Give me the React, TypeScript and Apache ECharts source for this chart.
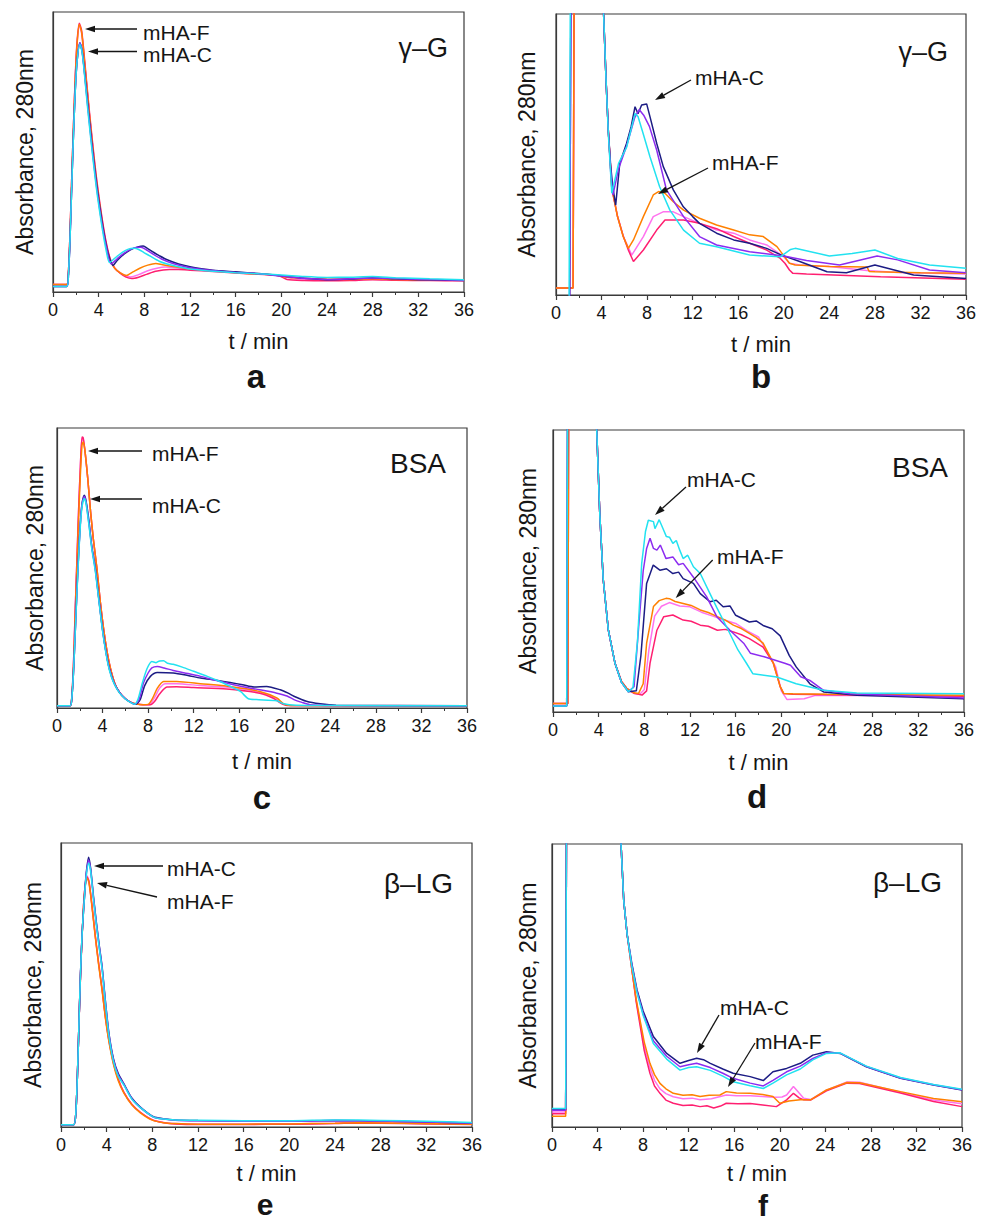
import React, { useEffect, useRef } from "react";
import * as echarts from "echarts";

const FONT = "'Liberation Sans', Arial, Helvetica, sans-serif";

const SERIES_NAMES = ["mHA-F 3", "mHA-F 2", "mHA-F 1", "mHA-C 1", "mHA-C 2", "mHA-C 3"];
const SERIES_COLORS = ["#FF72EE", "#FF1F70", "#FF8000", "#1C1C84", "#8C2CF0", "#22E2F0"];

const X_TICKS = [0, 4, 8, 12, 16, 20, 24, 28, 32, 36];

// ---------- panel a : gamma-G ----------
const aOrange = [[0,2.7],[1.2,2.7],[1.35,7],[1.5,22],[1.65,42],[1.8,60],[1.95,76],[2.1,88],[2.3,95.5],[2.5,93],[2.7,85],[2.9,76],[3.2,63],[3.5,51],[3.8,40],[4.2,28],[4.6,18],[5.0,11.5],[5.4,8.5],[5.9,6.8],[6.4,5.9],[7.0,7.2],[7.6,8.5],[8.3,9.6],[9.0,10.2],[9.6,9.7],[10.5,9.1],[12,8.3],[14,7.6],[16,6.9],[18,6.4],[19.5,6.0],[20.5,5.3],[22,4.9],[24,4.6],[26,4.5],[28,4.7],[30,4.5],[33,4.3],[36,4.2]];
const aLightPink = [[0,2.7],[1.2,2.7],[1.35,7],[1.5,22],[1.65,42],[1.8,60],[1.95,76],[2.1,88],[2.3,95],[2.5,92.5],[2.7,85],[2.9,76],[3.2,63],[3.5,51],[3.8,40],[4.2,28.5],[4.6,18.5],[5.0,11.8],[5.4,8.5],[5.9,6.8],[6.4,5.8],[6.8,5.4],[7.5,6.2],[8.3,7.6],[9.2,8.6],[9.8,8.9],[10.8,8.7],[12,8.1],[14,7.5],[16,7.0],[18,6.5],[20,5.8],[21,4.8],[24,4.3],[28,4.6],[32,4.3],[36,4.1]];
const aHotPink = [[0,2.7],[1.2,2.7],[1.35,7],[1.5,22],[1.65,42],[1.8,60],[1.95,77],[2.1,89],[2.3,96],[2.5,93.5],[2.7,86],[2.9,77],[3.2,64],[3.5,52],[3.8,41],[4.2,29],[4.6,19],[5.0,12],[5.4,8.6],[5.9,6.6],[6.4,5.3],[6.9,4.8],[7.5,5.3],[8.2,6.3],[9.0,7.4],[10.2,8.0],[11,8.0],[12,7.8],[14,7.3],[16,6.8],[18,6.3],[19.7,5.9],[20.5,4.5],[22,4.1],[24,4.0],[26,4.1],[28,4.4],[30,4.2],[33,4.1],[36,4.0]];
const aNavy = [[0,2],[1.2,2],[1.35,6],[1.5,20],[1.65,39],[1.8,57],[1.95,72],[2.1,82],[2.35,88.9],[2.55,86],[2.75,79],[3.0,69],[3.3,57],[3.6,46],[3.9,36],[4.3,25],[4.7,16],[5.0,11.5],[5.25,9.5],[5.6,11.2],[6.0,12.8],[6.5,14.3],[7.0,15.5],[7.5,16.2],[7.9,16.4],[8.3,15.5],[8.8,14.2],[9.3,13],[10,11.5],[11,10],[12,9],[13,8.3],[14,7.8],[16,7.2],[18,6.6],[20,5.8],[22,4.9],[24,4.4],[26,4.6],[28,5.1],[30,4.7],[32,4.4],[36,4.1]];
const aPurple = [[0,2],[1.2,2],[1.35,6],[1.5,20],[1.65,39],[1.8,57],[1.95,72],[2.1,82],[2.35,89],[2.55,86],[2.75,78.5],[3.0,68],[3.3,56],[3.6,45],[3.9,35],[4.3,24],[4.7,15.5],[5.1,10],[5.6,11.8],[6.2,13.8],[6.8,15.2],[7.3,15.9],[7.7,16],[8.2,15],[8.8,13.4],[9.5,11.8],[10.5,10.2],[12,8.7],[14,7.7],[16,7.0],[18,6.5],[20,5.7],[22,4.9],[24,4.5],[26,4.7],[28,5.0],[32,4.5],[36,4.2]];
const aCyan = [[0,2],[1.2,2],[1.35,6],[1.5,20],[1.65,39],[1.8,57],[1.95,72],[2.1,82],[2.35,88.5],[2.55,85.5],[2.75,78],[3.0,67],[3.3,55],[3.6,44],[3.9,34],[4.3,23],[4.65,15],[4.95,10.5],[5.4,12],[6.0,14],[6.6,15.3],[7.1,15.6],[7.5,15.2],[8.0,14],[8.6,12.6],[9.3,11],[10,10],[11,9],[12,8.2],[14,7.4],[16,6.9],[18,6.5],[20,6.1],[22,5.5],[24,5.2],[26,5.3],[28,5.5],[30,5.1],[33,4.7],[36,4.4]];

// ---------- panel b : gamma-G (zoomed) ----------
const bOrange = [[0,2.5],[1.5,2.5],[1.6,120],[2.3,400],[3.2,250],[3.8,140],[4.18,100],[4.4,76],[4.6,58],[4.8,45],[4.9,38],[5.4,27.9],[5.9,20.8],[6.35,16.6],[6.8,19.6],[7.67,27.9],[8.54,35.6],[9.0,36.8],[9.57,36.2],[10.3,33.2],[11.2,30.2],[12.6,27.3],[14.1,24.9],[15.6,23.1],[17,21.4],[18.2,20.8],[19.4,17.2],[19.96,14.2],[20.5,11.3],[21,10.7],[24,10.1],[27.3,10.0],[27.5,8.4],[28,8.3],[32,7.9],[36,7.7]];
const bLightPink = [[0,2.5],[1.5,2.5],[1.6,120],[2.3,400],[3.2,250],[3.8,140],[4.18,100],[4.4,76],[4.6,58],[4.8,45],[4.9,38],[5.4,28],[5.9,21],[6.65,14.2],[7.67,20.8],[8.54,27.9],[9.4,29.6],[10.3,29.6],[11.2,27.9],[12.6,25.5],[14.1,23.1],[15.6,22],[17,19.6],[18.5,17.8],[20,13.6],[20.5,11.3],[21.4,10.7],[24,10.1],[27.3,8.7],[30,8],[36,7.5]];
const bHotPink = [[0,2.5],[1.5,2.5],[1.6,120],[2.3,400],[3.2,250],[3.8,140],[4.18,100],[4.4,76],[4.6,58],[4.8,45],[4.9,38],[5.4,28],[5.9,21],[6.35,16],[6.8,11.9],[7.67,16],[8.84,23.1],[9.57,26.7],[11.2,26.7],[12.6,25.5],[14.1,23.6],[15.6,20.8],[17,18.4],[18.5,16],[19.7,13],[20.1,11.3],[20.5,8.9],[20.8,7.7],[22,7.5],[28.5,6.5],[36,5.6]];
const bNavy = [[0,-2],[1.2,-2],[1.35,150],[2.3,400],[3.2,250],[3.8,140],[4.18,100],[4.4,76],[4.6,58],[4.8,46],[5.0,38],[5.24,32],[5.6,46.9],[6.2,54],[6.6,60],[6.94,67],[7.2,64.5],[7.52,67.6],[7.96,68],[8.25,63.5],[8.84,54],[9.42,45.7],[10.3,37.4],[11.18,31.4],[12,27.9],[12.6,25.5],[14.1,22],[15.6,19.6],[17,18.4],[18.5,16.6],[19.8,14.2],[21.4,11.9],[23.8,8.3],[25.5,7.9],[28,10.7],[31.4,7.1],[36,5.9]];
const bPurple = [[0,-2],[1.2,-2],[1.35,150],[2.3,400],[3.2,250],[3.8,140],[4.18,100],[4.4,76],[4.6,58],[4.8,44],[5.0,35.6],[5.5,45],[6.2,53],[6.9,63],[7.3,66],[7.7,64],[8.2,60],[8.84,51.6],[9.7,37.4],[11.2,27.9],[12.6,20.8],[14.1,17.8],[17,15.4],[20,13.9],[22,12.3],[24.9,10.7],[28.2,13.9],[30,12.5],[32.8,8.9],[36,7.9]];
const bCyan = [[0,-2],[1.15,-2],[1.3,150],[2.3,400],[3.2,250],[3.8,140],[4.18,100],[4.4,76],[4.6,57],[4.9,36.2],[5.5,46.9],[6.2,52.6],[6.94,64.6],[7.2,63.5],[7.65,57.5],[8.25,49.2],[9.1,38.5],[10,30.2],[11.2,23.1],[12.6,18.4],[14.1,17.2],[17,14.2],[19.7,13.6],[20.6,16.2],[21,16.6],[24,13.9],[26,14.8],[28,16],[30,13],[32.8,10.7],[36,9.5]];

// ---------- panel c : BSA ----------
const cOrange = [[0,0.8],[1.15,0.8],[1.3,4],[1.45,15],[1.6,33],[1.75,51],[1.9,68],[2.05,83],[2.2,94],[2.3,95],[2.45,92],[2.7,82],[2.95,70],[3.2,60],[3.5,50],[3.8,38],[4.1,28],[4.4,20],[4.7,14],[5.1,8.5],[5.5,5.5],[6.0,3.3],[6.5,2.0],[7.0,1.4],[7.5,1.2],[8.0,1.3],[8.4,3.5],[8.8,7],[9.36,9.5],[10.5,9.5],[12.6,8.7],[15.5,7.5],[17.8,5.9],[19.3,3.6],[19.9,1.5],[20.5,0.9],[36,0.8]];
const cLightPink = [[0,0.8],[1.15,0.8],[1.3,4],[1.45,16],[1.6,35],[1.75,53],[1.9,71],[2.05,86],[2.2,96.5],[2.3,96],[2.45,92],[2.7,82],[2.95,70],[3.2,60],[3.5,50],[3.8,38],[4.1,28],[4.4,20],[4.7,14],[5.1,8.5],[5.5,5.5],[6.0,3.3],[6.5,2.0],[7.0,1.4],[7.6,1.2],[8.1,1.2],[8.6,4],[9.0,7],[9.5,8.7],[10.5,8.7],[12.6,8],[15.5,7.2],[17.8,5.6],[19.3,3.4],[19.8,1.6],[20.5,0.9],[36,0.8]];
const cHotPink = [[0,0.8],[1.15,0.8],[1.3,4],[1.45,16],[1.6,35],[1.75,53],[1.9,71],[2.05,86],[2.2,96.8],[2.3,96.5],[2.45,92],[2.7,82],[2.95,70],[3.2,60],[3.5,50],[3.8,38],[4.1,28],[4.4,20],[4.7,14],[5.1,8.5],[5.5,5.5],[6.0,3.3],[6.5,2.0],[7.0,1.4],[7.6,1.2],[8.2,1.2],[8.6,2.5],[9.0,5],[9.65,7.5],[10.5,7.6],[12,7.3],[14.9,6.8],[17.8,5.3],[19.0,3.5],[19.6,1.8],[20.2,0.9],[36,0.8]];
const cNavy = [[0,0.8],[1.15,0.8],[1.3,3.5],[1.45,13],[1.6,27],[1.75,42],[1.9,55],[2.05,66],[2.2,73],[2.4,76],[2.55,74],[2.8,67],[3.05,58],[3.36,50],[3.7,38],[4.0,28],[4.3,20],[4.6,14],[5.0,9],[5.5,5.5],[6.0,3.3],[6.4,2.2],[6.9,1.3],[7.3,3],[7.7,8],[8.2,11.3],[8.8,12.7],[10.2,12.5],[11.5,11.6],[12.6,10.7],[14,9.9],[15.2,9.1],[16.3,8.3],[17.3,7.5],[18.4,7.7],[19.6,6.5],[20.3,5.3],[20.8,4.2],[21.9,2.4],[23.1,1.5],[24.5,1.0],[36,0.8]];
const cPurple = [[0,0.8],[1.15,0.8],[1.3,3.5],[1.45,13],[1.6,27],[1.75,42],[1.9,55],[2.05,66],[2.2,73],[2.4,75.5],[2.55,73.5],[2.8,66],[3.05,57.5],[3.36,49.5],[3.7,38],[4.0,28],[4.3,20],[4.6,14],[5.0,9],[5.5,5.5],[6.0,3.3],[6.4,2.2],[6.8,1.3],[7.2,3],[7.6,9],[8.0,12.5],[8.33,14.3],[8.8,14.8],[9.4,14.3],[10.2,13.4],[11.5,12.3],[12.6,11.3],[14,9.8],[15.5,8.3],[16.7,7.3],[17.8,6.5],[19.3,5.3],[20.2,4.3],[20.8,3],[21.5,2],[22.2,1.2],[24,0.9],[36,0.8]];
const cCyan = [[0,0.8],[1.15,0.8],[1.3,3.5],[1.45,13],[1.6,27],[1.75,41],[1.9,54],[2.05,65],[2.2,72],[2.4,74.8],[2.55,73],[2.8,65.5],[3.05,57],[3.36,49],[3.7,37.5],[4.0,27.5],[4.3,19.5],[4.6,13.5],[5.0,8.8],[5.5,5.3],[6.0,3.2],[6.4,2.1],[6.8,1.3],[7.1,3],[7.5,9],[7.9,14],[8.33,16.6],[8.7,16.2],[9.0,16.8],[9.36,16.9],[9.7,16],[10.2,15.6],[11,14.6],[12,13.1],[13.2,11.3],[14.1,9.8],[14.9,8.3],[16.1,5.9],[16.8,3.3],[17.5,3],[19.3,2.6],[19.9,1.5],[21,1],[24,0.9],[36,0.8]];

// ---------- panel d : BSA (zoomed) ----------
const dOrange = [[0,3],[1.3,3],[1.4,150],[2.3,400],[3.2,200],[3.83,100],[4.1,70],[4.4,47],[4.85,29],[5.43,17.3],[6.0,10.8],[6.45,8.4],[7.1,6.8],[7.5,6.6],[7.9,10],[8.2,24.4],[8.8,37.4],[9.3,39.5],[9.9,40.3],[10.2,40.2],[10.7,39.2],[11.4,38.5],[12.1,37.8],[12.9,36.2],[13.6,35.3],[14.4,33.8],[15.1,32.6],[15.8,30.8],[16.5,29.6],[17.2,27.9],[17.8,26.4],[18.4,24.4],[19.3,17.3],[19.9,9],[20.2,6.6],[21,6.5],[24,6.3],[36,5.9]];
const dLightPink = [[0,3],[1.3,3],[1.4,150],[2.3,400],[3.2,200],[3.83,100],[4.1,70],[4.4,47],[4.85,29],[5.43,17.3],[6.0,10.8],[6.45,8.4],[7.1,6.6],[7.6,6.3],[8.0,8],[8.4,22],[8.9,34],[9.5,37.5],[10.2,38.8],[11.1,37.6],[12,37.3],[13,35.4],[14,34],[15,32.6],[16,31.4],[17,28.8],[18,26.6],[19.5,16],[20,7.5],[20.5,4.4],[22,4.7],[23,5.9],[36,5.8]];
const dHotPink = [[0,3],[1.3,3],[1.4,150],[2.3,400],[3.2,200],[3.83,100],[4.1,70],[4.4,47],[4.85,29],[5.43,17.3],[6.0,10.8],[6.45,8.4],[7.1,6.6],[7.8,6.0],[8.2,7.5],[8.5,17.3],[9.1,29],[9.7,33.8],[10.5,34.4],[11.4,32.6],[12.1,32.2],[12.9,30.8],[13.6,30.4],[14.4,29],[15.1,29.3],[15.8,28.4],[16.5,27.4],[17.2,26],[18.4,23],[19.3,17.3],[19.9,9],[20.2,6.6],[21,6.3],[36,5.6]];
const dNavy = [[0,2.1],[1.2,2.1],[1.3,150],[2.3,400],[3.2,200],[3.83,100],[4.1,70],[4.4,47],[4.85,29],[5.43,17.3],[6.0,10.5],[6.6,7.2],[7.3,7.5],[7.7,20],[8.2,45.6],[8.78,52.1],[9.36,50.3],[9.94,50.8],[10.5,49.1],[11.0,49.6],[11.4,47.3],[12.3,45.6],[12.9,42],[13.75,39.1],[14.3,39.6],[14.9,37.3],[15.5,37.6],[16.0,34.3],[17.2,31.9],[17.8,32.3],[18.4,30.7],[19.2,29.5],[19.9,27],[20.7,20],[21.3,16],[22.5,10],[23.7,7.1],[26.6,5.9],[36,4.7]];
const dPurple = [[0,2.1],[1.2,2.1],[1.3,150],[2.3,400],[3.2,200],[3.83,100],[4.1,70],[4.4,47],[4.85,29],[5.43,17.3],[6.0,10.5],[6.6,7.2],[7.1,9],[7.5,30],[7.9,50],[8.2,58],[8.5,61.6],[8.8,58],[9.1,57.4],[9.4,59.2],[9.9,54.4],[10.5,55],[11.0,52.2],[11.4,52.7],[12.3,47.8],[13.45,40.9],[14.35,33.8],[15.5,29],[16.7,24.4],[17.3,20.8],[18.5,19.6],[20.3,17.3],[20.8,16.6],[21.7,12.5],[22.5,11.2],[23.7,7.7],[26,6.5],[36,5]];
const dCyan = [[0,2.1],[1.2,2.1],[1.3,150],[2.3,400],[3.2,200],[3.83,100],[4.1,70],[4.4,47],[4.85,29],[5.43,17.3],[6.0,10.5],[6.6,7.2],[7.0,8.5],[7.4,25],[7.77,52.7],[8.1,64],[8.35,68],[8.8,67.5],[8.93,65],[9.3,68.2],[9.64,65],[9.93,62.2],[10.2,62],[10.5,59.8],[10.8,60.8],[11.1,57.4],[11.4,54.4],[11.8,55.6],[12.3,51.5],[12.9,49.1],[13.75,42],[14.35,37],[15.35,29],[16.2,22],[16.96,17.2],[17.5,13.6],[19.6,12.4],[21.3,10],[23.7,7.7],[26.6,6.7],[36,6.5]];

// ---------- panel e : beta-LG ----------
const eOrange = [[0,0.8],[1.1,0.8],[1.3,5],[1.46,21],[1.6,40],[1.75,58],[1.95,76],[2.1,84],[2.28,87.6],[2.45,86],[2.7,78],[3.0,67],[3.3,57],[3.6,48],[3.9,38],[4.2,30],[4.6,22],[5.0,16.5],[5.5,12],[6.2,7.8],[6.95,5],[8,2.4],[9,1.5],[10,1.2],[12,1],[16,1],[20,1.1],[24,1.3],[26,1.5],[30,1.3],[36,1]];
const eLightPink = [[0,0.8],[1.1,0.8],[1.3,5],[1.46,21],[1.6,40],[1.75,58],[1.95,76],[2.1,84.5],[2.28,88.5],[2.45,86.5],[2.7,78.5],[3.0,67.5],[3.3,57.5],[3.6,48.5],[3.9,38.5],[4.2,30.5],[4.6,22.5],[5.0,17],[5.5,12.3],[6.2,8],[6.95,5.2],[8,2.6],[9,1.6],[10,1.2],[12,1],[16,1],[20,1.1],[24,1.3],[26,1.5],[30,1.3],[36,1]];
const eHotPink = [[0,0.8],[1.1,0.8],[1.3,5],[1.46,21],[1.6,40],[1.75,58],[1.95,76],[2.1,84.5],[2.28,88],[2.45,86.5],[2.7,78.5],[3.0,67.5],[3.3,57.5],[3.6,48.5],[3.9,38.5],[4.2,30.5],[4.6,22.5],[5.0,17],[5.5,12.3],[6.2,8],[6.95,5.2],[8,2.5],[9,1.5],[10,1.1],[12,0.9],[16,0.9],[20,1],[24,1.2],[26,1.4],[30,1.2],[36,0.9]];
const eNavy = [[0,0.8],[1.1,0.8],[1.3,5],[1.46,21],[1.6,40],[1.7,53],[1.85,68],[2.04,80],[2.2,89],[2.42,95],[2.6,91],[2.85,81],[3.1,72],[3.35,64],[3.6,56.5],[3.9,44],[4.2,33],[4.6,24],[5.0,19],[5.5,15.3],[6.2,10.2],[6.95,7],[8.1,3.6],[9,2.9],[10,2.5],[12,2.3],[16,2.1],[20,2.1],[24,2.3],[28,2.1],[32,1.8],[36,1.4]];
const ePurple = [[0,0.8],[1.1,0.8],[1.3,5],[1.46,21],[1.6,40],[1.7,53],[1.85,68],[2.04,80],[2.2,88.5],[2.42,94],[2.6,90.5],[2.85,80.5],[3.1,71.5],[3.35,63.5],[3.6,56],[3.9,43.5],[4.2,32.5],[4.6,23.5],[5.0,18.5],[5.5,15],[6.2,10],[6.95,6.8],[8.1,3.5],[9,2.8],[10,2.4],[12,2.2],[16,2],[20,2],[24,2.3],[28,2.1],[32,1.8],[36,1.4]];
const eCyan = [[0,0.8],[1.1,0.8],[1.3,5],[1.46,21],[1.6,40],[1.7,53],[1.85,68],[2.04,80],[2.2,88],[2.42,93],[2.6,90],[2.85,80],[3.1,71],[3.35,63],[3.6,55.5],[3.9,43],[4.2,32],[4.6,23],[5.0,18],[5.5,14.8],[6.2,9.8],[6.95,6.8],[8.1,3.5],[9,2.8],[10,2.5],[12,2.4],[16,2.2],[20,2.2],[24,2.5],[28,2.3],[32,2],[36,1.6]];

// ---------- panel f : beta-LG (zoomed) ----------
const fOrange = [[0,3.8],[1.2,3.8],[1.3,150],[2.4,500],[4,250],[5.2,140],[6.06,100],[6.3,80],[6.6,68],[7.0,56],[7.4,45],[7.73,37.8],[8.1,30],[8.6,22.5],[9.0,18.5],[9.48,15.4],[10.0,13.5],[10.65,11.9],[11.5,11.2],[12.3,11.4],[13,10.8],[13.8,11.2],[14.75,11.3],[15.3,12.5],[16.2,12],[17.4,11.9],[18.5,11.5],[19.4,10.8],[20,8.4],[20.8,9.2],[21.8,9.6],[22.7,9.6],[24.1,13.1],[25.9,15.7],[27,15.6],[30.6,12.5],[33.5,10.1],[36,8.9]];
const fLightPink = [[0,5.3],[1.2,5.3],[1.3,150],[2.4,500],[4,250],[5.2,140],[6.06,100],[6.3,80],[6.6,68],[7.0,56],[7.4,44.5],[7.73,37],[8.1,28.5],[8.6,21],[9.0,16.5],[9.48,13.5],[10.0,11.8],[10.65,10.7],[11.5,10],[12.3,10.2],[13,9.6],[14,10],[15.3,11.3],[16.2,11],[17.4,11],[18.5,10.8],[19.4,10.5],[20.2,10.6],[20.6,11.3],[21.2,14.3],[21.7,12],[22.1,10.2],[22.7,9.7],[24.1,13],[25.9,15.9],[27,15.8],[30.6,12.3],[33.5,9.5],[36,8.2]];
const fHotPink = [[0,4.7],[1.2,4.7],[1.3,150],[2.4,500],[4,250],[5.2,140],[6.06,100],[6.3,80],[6.6,68],[7.0,56],[7.4,44],[7.73,36],[8.1,27],[8.6,19],[9.0,14.5],[9.48,11.9],[10.0,9.5],[10.65,8.4],[11.5,7.6],[12.3,7.8],[13,7.2],[13.6,7.5],[14.2,6.7],[14.8,7.4],[15.3,8.4],[16.3,8.2],[17.4,8.3],[18.5,7.8],[19.7,7.2],[20.6,9.6],[21.2,11.9],[21.7,10.3],[22.1,9.6],[22.7,9.5],[24.1,12.8],[25.9,15.5],[27,15.4],[30.6,12],[33.5,9],[36,7.2]];
const fNavy = [[0,6.2],[1.2,6.2],[1.3,150],[2.4,500],[4,250],[5.2,140],[6.06,100],[6.3,80],[6.6,68],[7.0,58],[7.46,48.5],[8.0,41],[8.9,32],[10.07,26],[11.24,22.5],[12,23.5],[12.7,24.3],[13.3,23.8],[13.9,22.5],[15,20.5],[15.9,19],[17.4,17.8],[18.55,16.4],[19.4,19.5],[20.6,20.7],[21.8,22.5],[22.9,25.4],[24.1,26.6],[25.3,26],[27.6,21.3],[30.6,17.2],[33.5,14.8],[36,13.1]];
const fPurple = [[0,5.9],[1.2,5.9],[1.3,150],[2.4,500],[4,250],[5.2,140],[6.06,100],[6.3,80],[6.6,68],[7.0,57.5],[7.46,48],[8.0,40],[8.9,30.5],[10.07,25],[11.24,21.3],[12,22],[12.7,22.5],[13.9,21],[15,19],[15.9,17.2],[17.4,15.5],[18.55,14.5],[19.4,16.5],[20.6,19.5],[21.8,21.5],[22.9,24.2],[24.1,26.3],[25.3,26.1],[27.6,21.4],[30.6,17.3],[33.5,14.9],[36,13.2]];
const fCyan = [[0,6.5],[1.2,6.5],[1.3,150],[2.4,500],[4,250],[5.2,140],[6.06,100],[6.3,80],[6.6,68],[7.0,57],[7.46,47.5],[8.0,39.5],[8.9,29.5],[10.07,24],[11.24,20.1],[12,21],[12.7,21.3],[13.9,20],[15,18],[15.9,16],[17.4,14.6],[18.55,13.6],[19.4,15.5],[20.6,18.4],[21.8,20.5],[22.9,23.7],[24.1,26],[25.3,26.2],[27.6,21.5],[30.6,17.5],[33.5,15],[36,13.3]];

// drawing order: light pink, hot pink, orange, navy, purple, cyan
const PANEL_SERIES = [
  [aLightPink, aHotPink, aOrange, aNavy, aPurple, aCyan],
  [bLightPink, bHotPink, bOrange, bNavy, bPurple, bCyan],
  [cLightPink, cHotPink, cOrange, cNavy, cPurple, cCyan],
  [dLightPink, dHotPink, dOrange, dNavy, dPurple, dCyan],
  [eLightPink, eHotPink, eOrange, eNavy, ePurple, eCyan],
  [fLightPink, fHotPink, fOrange, fNavy, fPurple, fCyan],
];
const PANEL_LETTERS = ["a", "b", "c", "d", "e", "f"];
const PANEL_TITLES = ["γ–G", "γ–G", "BSA", "BSA", "β–LG", "β–LG"];
const PANEL_SMOOTH = [true, false, true, false, true, false];

// layout (pixels)
const LAYOUT = [
  { grid: { left: 53, top: 12, width: 411, height: 280 }, xGap: 38, yGap: 17, letter: [256, 376, 33], title: [448, 48, 27],
    notes: [{ t: "mHA-F", x: 143, y: 32.5, a: [137, 29, 85, 29] }, { t: "mHA-C", x: 143, y: 54.5, a: [137, 51.5, 88, 51.5] }] },
  { grid: { left: 556, top: 14, width: 410, height: 281 }, xGap: 38, yGap: 18, letter: [761, 376, 33], title: [948, 52, 27],
    notes: [{ t: "mHA-C", x: 695, y: 77.5, a: [691, 80, 655, 100] }, { t: "mHA-F", x: 712, y: 162.5, a: [708, 168, 658, 194] }] },
  { grid: { left: 57, top: 428, width: 410, height: 280 }, xGap: 42, yGap: 11, letter: [262, 797, 33], title: [446, 463, 28],
    notes: [{ t: "mHA-F", x: 152, y: 453.5, a: [142, 451, 88, 451] }, { t: "mHA-C", x: 152, y: 505, a: [142, 499, 90, 499] }] },
  { grid: { left: 553, top: 430, width: 411, height: 282 }, xGap: 39, yGap: 14, letter: [757, 796, 33], title: [948, 467.5, 28],
    notes: [{ t: "mHA-C", x: 687, y: 479.5, a: [686, 487, 655, 515] }, { t: "mHA-F", x: 717, y: 556, a: [712.7, 560, 675.7, 598] }] },
  { grid: { left: 61, top: 843, width: 411, height: 284 }, xGap: 35, yGap: 17, letter: [265, 1204, 30], title: [453, 883, 28],
    notes: [{ t: "mHA-C", x: 167, y: 868.5, a: [163, 866, 94, 866] }, { t: "mHA-F", x: 167, y: 901.5, a: [157, 897, 97, 883] }] },
  { grid: { left: 552, top: 844, width: 410, height: 283 }, xGap: 35, yGap: 13, letter: [763, 1205, 30], title: [942, 882, 28],
    notes: [{ t: "mHA-C", x: 720, y: 1007.5, a: [719, 1015, 697, 1053] }, { t: "mHA-F", x: 755, y: 1041, a: [755, 1043, 728, 1087] }] },
];

const INK = "#151515";
const FRAME = "#3a3a3a";

function text(t: string, x: number, y: number, size: number, align: string, weight = "normal") {
  return {
    type: "text", x, y, z: 100,
    style: { text: t, fontSize: size, fontFamily: FONT, fontWeight: weight, fill: INK, align, verticalAlign: "middle", textAlign: align, textVerticalAlign: "middle" },
  };
}

function arrow(x1: number, y1: number, x2: number, y2: number) {
  const dx = x2 - x1, dy = y2 - y1;
  const len = Math.hypot(dx, dy);
  const ux = dx / len, uy = dy / len;
  const L = 10, W = 3.3;
  const bx = x2 - ux * L, by = y2 - uy * L;
  return [
    { type: "line", z: 100, shape: { x1, y1, x2: bx, y2: by }, style: { stroke: INK, lineWidth: 1.3 } },
    { type: "polygon", z: 100, shape: { points: [[x2, y2], [bx - uy * W, by + ux * W], [bx + uy * W, by - ux * W]] }, style: { fill: INK } },
  ];
}

function buildOption() {
  const grid: any[] = [];
  const xAxis: any[] = [];
  const yAxis: any[] = [];
  const series: any[] = [];
  const graphic: any[] = [];

  LAYOUT.forEach((L, i) => {
    grid.push({ ...L.grid, containLabel: false, show: true, borderColor: FRAME, borderWidth: 1.2, backgroundColor: "transparent" });
    xAxis.push({
      gridIndex: i, type: "value", min: X_TICKS[0], max: X_TICKS[X_TICKS.length - 1], interval: X_TICKS[1] - X_TICKS[0],
      axisLine: { show: true, onZero: false, lineStyle: { color: FRAME, width: 1.2 } },
      axisTick: { show: true, inside: false, length: 5, lineStyle: { color: FRAME, width: 1.2 } },
      minorTick: { show: true, splitNumber: 2, length: 3, lineStyle: { color: FRAME, width: 1 } },
      splitLine: { show: false },
      axisLabel: { fontSize: 18, color: INK, margin: 9, fontFamily: FONT },
      name: "t / min", nameLocation: "middle", nameGap: L.xGap,
      nameTextStyle: { fontSize: 22, color: INK, fontFamily: FONT },
    });
    yAxis.push({
      gridIndex: i, type: "value", min: 0, max: 100,
      axisLine: { show: true, lineStyle: { color: FRAME, width: 1.2 } },
      axisTick: { show: false }, axisLabel: { show: false }, splitLine: { show: false },
      name: "Absorbance, 280nm", nameLocation: "middle", nameGap: L.yGap,
      nameTextStyle: { fontSize: 23, color: INK, fontFamily: FONT },
    });
    PANEL_SERIES[i].forEach((data, k) => {
      series.push({
        name: SERIES_NAMES[k], type: "line", xAxisIndex: i, yAxisIndex: i, data,
        showSymbol: false, symbol: "none", clip: true,
        smooth: PANEL_SMOOTH[i] ? 0.25 : false,
        lineStyle: { color: SERIES_COLORS[k], width: 1.5 },
        itemStyle: { color: SERIES_COLORS[k] },
        emphasis: { disabled: true },
      });
    });
    graphic.push(text(PANEL_TITLES[i], L.title[0], L.title[1], L.title[2], "right"));
    graphic.push(text(PANEL_LETTERS[i], L.letter[0], L.letter[1], L.letter[2], "center", "bold"));
    L.notes.forEach((n) => {
      graphic.push(text(n.t, n.x, n.y, 21, "left"));
      graphic.push(...arrow(n.a[0], n.a[1], n.a[2], n.a[3]));
    });
  });

  return { animation: false, backgroundColor: "#ffffff", grid, xAxis, yAxis, series, graphic, tooltip: { show: false } };
}

export default function App() {
  const ref = useRef<HTMLDivElement>(null);
  useEffect(() => {
    if (!ref.current) return;
    const chart = echarts.init(ref.current, undefined, { renderer: "svg" });
    chart.setOption(buildOption() as any);
    return () => chart.dispose();
  }, []);
  return <div ref={ref} style={{ position: "absolute", left: 0, top: 0, width: 987, height: 1221, background: "#fff" }} />;
}
